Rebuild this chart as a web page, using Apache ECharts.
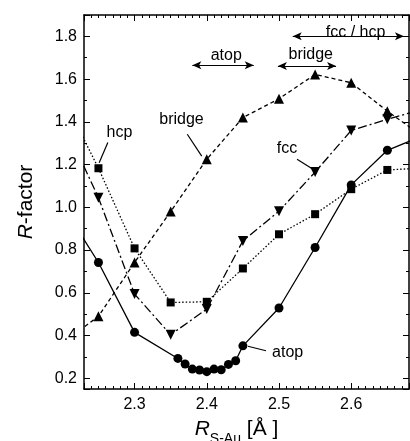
<!DOCTYPE html>
<html><head><meta charset="utf-8">
<script src="https://cdn.jsdelivr.net/npm/echarts@6/dist/echarts.min.js"></script>
<style>html,body{margin:0;padding:0;background:#fff}#c{width:410px;height:441px}</style>
</head><body><div id="c"></div>
<script>
// R_S-Au values [Å]
const rGrid = [2.20, 2.25, 2.30, 2.35, 2.40, 2.45, 2.50, 2.55, 2.60, 2.65, 2.70];
const atopX = [2.20, 2.25, 2.30, 2.36, 2.37, 2.38, 2.39, 2.40, 2.41, 2.42, 2.43, 2.44, 2.45, 2.50, 2.55, 2.60, 2.65, 2.70];
const atopR = [1.01, 0.742, 0.415, 0.293, 0.267, 0.243, 0.239, 0.231, 0.243, 0.240, 0.265, 0.282, 0.352, 0.529, 0.812, 1.105, 1.267, 1.336];
const hcpR = [1.52, 1.183, 0.808, 0.555, 0.558, 0.714, 0.874, 0.968, 1.085, 1.175, 1.184];
const fccR = [1.41, 1.045, 0.594, 0.404, 0.524, 0.843, 0.982, 1.165, 1.360, 1.412, 1.46];
const bridgeR = [0.365, 0.49, 0.742, 0.98, 1.225, 1.42, 1.508, 1.622, 1.583, 1.45, 1.33];

// annotations (data coordinates)
const arrowRanges = [
  {text: 'atop', from: [2.380, 1.665], to: [2.465, 1.665], at: [2.427, 1.708]},
  {text: 'bridge', from: [2.4985, 1.661], to: [2.579, 1.661], at: [2.544, 1.713]},
  {text: 'fcc / hcp', from: [2.519, 1.80], to: [2.673, 1.80], at: [2.606, 1.817]}
];
const pointerLabels = [
  {text: 'hcp', at: [2.279, 1.35], from: [2.263, 1.303], to: [2.251, 1.209]},
  {text: 'bridge', at: [2.365, 1.412], from: [2.373, 1.342], to: [2.393, 1.24]},
  {text: 'fcc', at: [2.511, 1.275], from: [2.525, 1.225], to: [2.546, 1.181]},
  {text: 'atop', at: [2.512, 0.321], from: [2.457, 0.350], to: [2.482, 0.329]}
];

const FONT = 'Liberation Sans';
const zip = (xs, ys) => xs.map((x, i) => [x, ys[i]]);

const markLines = [];
arrowRanges.forEach(a => markLines.push([{coord: a.from, symbol: 'arrow'}, {coord: a.to, symbol: 'arrow'}]));
pointerLabels.forEach(p => markLines.push([{coord: p.from, symbol: 'none'}, {coord: p.to, symbol: 'none'}]));
const markPoints = arrowRanges.concat(pointerLabels).map(a => ({
  coord: a.at, value: a.text
}));

const tickCommon = (minorSplit) => ({
  axisLine: {show: true, onZero: false, lineStyle: {color: '#000', width: 1.5}},
  axisTick: {show: true, inside: true, length: 6, lineStyle: {color: '#000', width: 1}},
  minorTick: {show: true, splitNumber: minorSplit, length: 3, lineStyle: {color: '#000', width: 1}},
  splitLine: {show: false}
});

const option = {
  animation: false,
  backgroundColor: '#fff',
  grid: {left: 84, right: 1, top: 15, bottom: 52, containLabel: false, outerBoundsMode: 'none'},
  xAxis: [
    Object.assign({
      type: 'value', min: 2.23, max: 2.68, splitNumber: 4, position: 'bottom',
      name: '{r|R}{s|S-Au}{n| [Å ]}', nameLocation: 'middle', nameGap: 30,
      nameTextStyle: {
        fontFamily: FONT, color: '#000', padding: [0, 20, 0, 0],
        rich: {
          r: {fontFamily: FONT, fontStyle: 'italic', fontSize: 21, lineHeight: 21, verticalAlign: 'top', color: '#000'},
          s: {fontFamily: FONT, fontSize: 14, lineHeight: 14, padding: [13, 0, 0, 0], verticalAlign: 'top', color: '#000'},
          n: {fontFamily: FONT, fontSize: 21, lineHeight: 21, verticalAlign: 'top', color: '#000'}
        }
      },
      axisLabel: {show: true, fontFamily: FONT, fontSize: 16, color: '#000', margin: 8, showMinLabel: false, showMaxLabel: false,
        formatter: v => v.toFixed(1)}
    }, tickCommon(10)),
    Object.assign({
      type: 'value', min: 2.23, max: 2.68, splitNumber: 4, position: 'top',
      axisLabel: {show: false}
    }, tickCommon(10))
  ],
  yAxis: [
    Object.assign({
      type: 'value', min: 0.15, max: 1.9, splitNumber: 8, position: 'left',
      name: '{i|R}{n|-factor}', nameLocation: 'middle', nameGap: 47,
      nameTextStyle: {
        fontFamily: FONT, color: '#000',
        rich: {
          i: {fontFamily: FONT, fontStyle: 'italic', fontSize: 21, color: '#000'},
          n: {fontFamily: FONT, fontSize: 21, color: '#000'}
        }
      },
      axisLabel: {show: true, fontFamily: FONT, fontSize: 16, color: '#000', margin: 7, showMinLabel: false, showMaxLabel: false,
        formatter: v => v.toFixed(1)}
    }, tickCommon(2)),
    Object.assign({
      type: 'value', min: 0.15, max: 1.9, splitNumber: 8, position: 'right',
      axisLabel: {show: false}
    }, tickCommon(2))
  ],
  series: [
    {
      name: 'atop', type: 'line', data: zip(atopX, atopR), clip: true,
      symbol: 'circle', symbolSize: 9,
      itemStyle: {color: '#000'}, lineStyle: {color: '#000', width: 1.3, type: 'solid'},
      markLine: {
        silent: true, symbolSize: [6, 9], label: {show: false},
        lineStyle: {color: '#000', width: 1.2, type: 'solid'},
        data: markLines
      },
      markPoint: {
        silent: true, symbol: 'circle', symbolSize: 1,
        itemStyle: {color: 'rgba(0,0,0,0)'},
        label: {show: true, position: 'inside', formatter: p => p.value, fontFamily: FONT, fontSize: 16, color: '#000'},
        data: markPoints
      }
    },
    {
      name: 'hcp', type: 'line', data: zip(rGrid, hcpR), clip: true,
      symbol: 'rect', symbolSize: 8,
      itemStyle: {color: '#000'}, lineStyle: {color: '#000', width: 1.3, type: [1.5, 2]}
    },
    {
      name: 'fcc', type: 'line', data: zip(rGrid, fccR), clip: true,
      symbol: 'triangle', symbolSize: 10, symbolRotate: 180,
      itemStyle: {color: '#000'}, lineStyle: {color: '#000', width: 1.3, type: [9, 3, 2, 3]}
    },
    {
      name: 'bridge', type: 'line', data: zip(rGrid, bridgeR), clip: true,
      symbol: 'triangle', symbolSize: 10,
      itemStyle: {color: '#000'}, lineStyle: {color: '#000', width: 1.3, type: [4, 3]}
    }
  ]
};
const chart = echarts.init(document.getElementById('c'), null, {renderer: 'canvas'});
chart.setOption(option);
</script>
</body></html>
